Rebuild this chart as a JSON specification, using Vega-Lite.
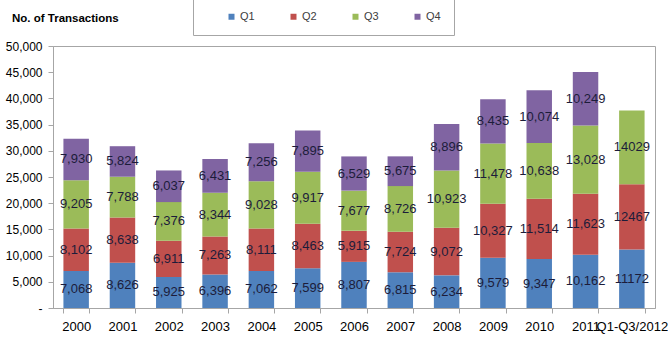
{
  "$schema": "https://vega.github.io/schema/vega-lite/v6.json",
  "width": 602,
  "height": 262,
  "autosize": {"type": "none"},
  "padding": {"left": 53, "top": 46, "right": 13, "bottom": 34},
  "background": "white",
  "config": {
    "font": "Liberation Sans",
    "view": {"stroke": "#a6a6a6", "strokeWidth": 1}
  },
  "title": {
    "text": "No. of Transactions",
    "anchor": "start",
    "frame": "group",
    "dx": -41,
    "dy": 27,
    "offset": 0,
    "fontSize": 11.5,
    "fontWeight": "bold",
    "color": "#000000"
  },
  "data": {
    "values": [
      {"year": "2000", "quarter": "Q1", "value": 7068},
      {"year": "2000", "quarter": "Q2", "value": 8102},
      {"year": "2000", "quarter": "Q3", "value": 9205},
      {"year": "2000", "quarter": "Q4", "value": 7930},
      {"year": "2001", "quarter": "Q1", "value": 8626},
      {"year": "2001", "quarter": "Q2", "value": 8638},
      {"year": "2001", "quarter": "Q3", "value": 7788},
      {"year": "2001", "quarter": "Q4", "value": 5824},
      {"year": "2002", "quarter": "Q1", "value": 5925},
      {"year": "2002", "quarter": "Q2", "value": 6911},
      {"year": "2002", "quarter": "Q3", "value": 7376},
      {"year": "2002", "quarter": "Q4", "value": 6037},
      {"year": "2003", "quarter": "Q1", "value": 6396},
      {"year": "2003", "quarter": "Q2", "value": 7263},
      {"year": "2003", "quarter": "Q3", "value": 8344},
      {"year": "2003", "quarter": "Q4", "value": 6431},
      {"year": "2004", "quarter": "Q1", "value": 7062},
      {"year": "2004", "quarter": "Q2", "value": 8111},
      {"year": "2004", "quarter": "Q3", "value": 9028},
      {"year": "2004", "quarter": "Q4", "value": 7256},
      {"year": "2005", "quarter": "Q1", "value": 7599},
      {"year": "2005", "quarter": "Q2", "value": 8463},
      {"year": "2005", "quarter": "Q3", "value": 9917},
      {"year": "2005", "quarter": "Q4", "value": 7895},
      {"year": "2006", "quarter": "Q1", "value": 8807},
      {"year": "2006", "quarter": "Q2", "value": 5915},
      {"year": "2006", "quarter": "Q3", "value": 7677},
      {"year": "2006", "quarter": "Q4", "value": 6529},
      {"year": "2007", "quarter": "Q1", "value": 6815},
      {"year": "2007", "quarter": "Q2", "value": 7724},
      {"year": "2007", "quarter": "Q3", "value": 8726},
      {"year": "2007", "quarter": "Q4", "value": 5675},
      {"year": "2008", "quarter": "Q1", "value": 6234},
      {"year": "2008", "quarter": "Q2", "value": 9072},
      {"year": "2008", "quarter": "Q3", "value": 10923},
      {"year": "2008", "quarter": "Q4", "value": 8896},
      {"year": "2009", "quarter": "Q1", "value": 9579},
      {"year": "2009", "quarter": "Q2", "value": 10327},
      {"year": "2009", "quarter": "Q3", "value": 11478},
      {"year": "2009", "quarter": "Q4", "value": 8435},
      {"year": "2010", "quarter": "Q1", "value": 9347},
      {"year": "2010", "quarter": "Q2", "value": 11514},
      {"year": "2010", "quarter": "Q3", "value": 10638},
      {"year": "2010", "quarter": "Q4", "value": 10074},
      {"year": "2011", "quarter": "Q1", "value": 10162},
      {"year": "2011", "quarter": "Q2", "value": 11623},
      {"year": "2011", "quarter": "Q3", "value": 13028},
      {"year": "2011", "quarter": "Q4", "value": 10249},
      {"year": "Q1-Q3/2012", "quarter": "Q1", "value": 11172},
      {"year": "Q1-Q3/2012", "quarter": "Q2", "value": 12467},
      {"year": "Q1-Q3/2012", "quarter": "Q3", "value": 14029}
    ]
  },
  "encoding": {
    "x": {
      "field": "year",
      "type": "nominal",
      "sort": null,
      "scale": {"paddingInner": 0.45, "paddingOuter": 0.225},
      "axis": {
        "title": null,
        "labelAngle": 0,
        "labelFontSize": 13,
        "labelColor": "#000000",
        "labelOverlap": false,
        "labelPadding": 7,
        "tickBand": "extent",
        "tickSize": 5,
        "tickColor": "#a6a6a6",
        "domainColor": "#a6a6a6"
      }
    },
    "y": {
      "field": "value",
      "type": "quantitative",
      "aggregate": "sum",
      "stack": "zero",
      "scale": {"domain": [0, 50000], "nice": false},
      "axis": {
        "title": null,
        "values": [0, 5000, 10000, 15000, 20000, 25000, 30000, 35000, 40000, 45000, 50000],
        "labelExpr": "datum.value == 0 ? '-\u00a0\u00a0\u00a0' : format(datum.value, ',')",
        "labelFontSize": 12,
        "labelColor": "#000000",
        "labelPadding": 6,
        "tickSize": 5,
        "tickColor": "#a6a6a6",
        "domainColor": "#a6a6a6",
        "grid": false
      }
    },
    "order": {"field": "quarter", "type": "nominal", "sort": "ascending"}
  },
  "layer": [
    {
      "mark": {"type": "bar"},
      "encoding": {
        "color": {
          "field": "quarter",
          "type": "nominal",
          "scale": {"domain": ["Q1", "Q2", "Q3", "Q4"], "range": ["#4f81bd", "#c0504d", "#9bbb59", "#8064a2"]},
          "legend": {
            "title": "\u00a0",
            "titleOrient": "left",
            "titlePadding": 20,
            "titleFontSize": 11,
            "orient": "none",
            "legendX": 140,
            "legendY": -48,
            "direction": "horizontal",
            "padding": 13,
            "strokeColor": "#a6a6a6",
            "fillColor": "white",
            "symbolType": "square",
            "symbolSize": 36,
            "symbolStrokeWidth": 0,
            "labelFontSize": 11,
            "labelColor": "#404040",
            "labelOffset": 3,
            "columnPadding": 33,
            "labelExpr": "datum.label == 'Q4' ? 'Q4\u00a0\u00a0\u00a0' : datum.label"
          }
        }
      }
    },
    {
      "mark": {"type": "text", "fontSize": 13, "color": "#1c1c3a"},
      "encoding": {
        "y": {
          "field": "value",
          "type": "quantitative",
          "aggregate": "sum",
          "stack": "zero",
          "bandPosition": 0.5
        },
        "detail": {"field": "quarter", "type": "nominal"},
        "text": {
          "condition": {"test": "datum.year === 'Q1-Q3/2012'", "field": "value", "aggregate": "sum", "format": "d"},
          "field": "value",
          "aggregate": "sum",
          "type": "quantitative",
          "format": ","
        }
      }
    }
  ]
}
